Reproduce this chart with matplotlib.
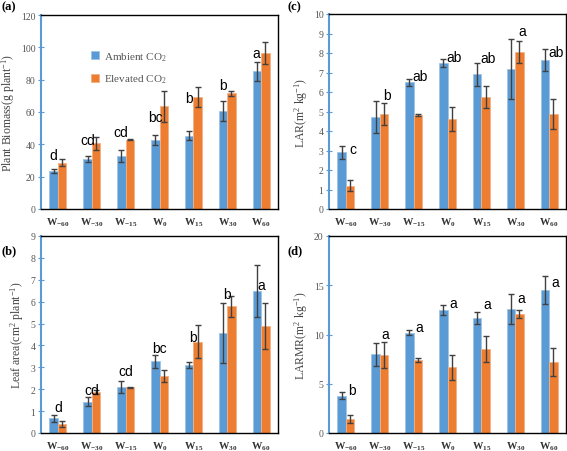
import numpy as np
import matplotlib
matplotlib.use("Agg")
import matplotlib.pyplot as plt

plt.rcParams['font.family'] = ['Liberation Serif', 'DejaVu Serif']
plt.rcParams['mathtext.fontset'] = 'custom'
plt.rcParams['mathtext.rm'] = 'Liberation Serif'
plt.rcParams['mathtext.it'] = 'Liberation Serif:italic'
plt.rcParams['mathtext.bf'] = 'Liberation Serif:bold'
plt.rcParams['mathtext.default'] = 'regular'

# categories
groups = [r'W$_{\mathbf{-60}}$', r'W$_{\mathbf{-30}}$', r'W$_{\mathbf{-15}}$', r'W$_{\mathbf{0}}$',
          r'W$_{\mathbf{15}}$', r'W$_{\mathbf{30}}$', r'W$_{\mathbf{60}}$']

# (a) plant biomass
bio_amb = [23.3, 30.9, 32.6, 42.7, 45.4, 60.6, 85.2]
bio_amb_err = [1.3, 2.0, 3.8, 3.0, 2.6, 6.0, 6.0]
bio_elev = [28.5, 40.8, 42.9, 63.5, 69.3, 71.5, 96.3]
bio_elev_err = [2.2, 4.0, 0.3, 9.6, 6.0, 1.4, 6.9]
bio_let = ['d', 'cd', 'cd', 'bc', 'b', 'b', 'a']
bio_let_y = [33.4, 42.9, 47.8, 56.7, 68.5, 76.7, 96.5]

# (b) leaf area
la_amb = [0.67, 1.43, 2.11, 3.27, 3.10, 4.57, 6.49]
la_amb_err = [0.15, 0.20, 0.27, 0.28, 0.15, 1.35, 1.18]
la_elev = [0.41, 1.88, 2.08, 2.61, 4.18, 5.79, 4.88]
la_elev_err = [0.13, 0.10, 0.03, 0.27, 0.77, 0.48, 1.05]
la_let = ['d', 'cd', 'cd', 'bc', 'b', 'b', 'a']
la_let_y = [1.2, 1.98, 2.84, 3.88, 4.4, 6.37, 6.75]

# (c) LAR
lar_amb = [2.90, 4.73, 6.50, 7.48, 6.90, 7.20, 7.64]
lar_amb_err = [0.34, 0.83, 0.17, 0.19, 0.60, 1.54, 0.58]
lar_elev = [1.20, 4.87, 4.82, 4.62, 5.74, 8.03, 4.87]
lar_elev_err = [0.27, 0.58, 0.07, 0.63, 0.57, 0.56, 0.78]
lar_let = ['c', 'b', 'ab', 'ab', 'ab', 'a', 'ab']
lar_let_y = [3.08, 5.86, 6.8, 7.81, 7.73, 9.15, 8.03]

# (d) LARMR
lmr_amb = [3.78, 8.00, 10.20, 12.47, 11.70, 12.60, 14.50]
lmr_amb_err = [0.34, 1.18, 0.25, 0.50, 0.60, 1.52, 1.40]
lmr_elev = [1.42, 7.90, 7.40, 6.65, 8.48, 12.06, 7.23]
lmr_elev_err = [0.40, 1.30, 0.22, 1.27, 1.32, 0.40, 1.44]
lmr_let = ['b', 'a', 'a', 'a', 'a', 'a', 'a']
lmr_let_y = [4.4, 10.1, 10.8, 13.2, 13.1, 13.75, 15.3]

blue = '#5B9BD5'
orange = '#ED7D31'
w = 0.25

fig = plt.figure(figsize=(5.67, 4.52), dpi=100)

def panel(rect, amb, amb_err, elev, elev_err, ymax, step, ylabel, letters, let_y, let_dx, tag, tag_xy, legend=False):
    ax = fig.add_axes(rect)
    x = np.arange(len(groups))
    ax.bar(x - w / 2, amb, w, color=blue, edgecolor='#9DC3E6', linewidth=0.6, label=r'Ambient CO$_2$')
    ax.bar(x + w / 2, elev, w, color=orange, edgecolor='#F4B183', linewidth=0.6, label=r'Elevated CO$_2$')
    ek = dict(fmt='none', ecolor='#404040', elinewidth=1.0, capsize=2.5, capthick=1.0)
    ax.errorbar(x - w / 2, amb, yerr=amb_err, **ek)
    ax.errorbar(x + w / 2, elev, yerr=elev_err, **ek)
    for i, (t, yy) in enumerate(zip(letters, let_y)):
        ax.text(i + let_dx, yy, t, ha='center', va='center', fontsize=10,
                family='Liberation Sans')
    ax.set_xlim(-0.5, len(groups) - 0.5)
    ax.set_ylim(0, ymax)
    ax.set_yticks(np.arange(0, ymax + step / 2, step))
    ax.set_xticks(x)
    ax.set_xticklabels(groups, fontsize=7.5, color='#333333', fontweight='bold')
    ax.tick_params(axis='x', length=0, pad=5)
    ax.tick_params(axis='y', direction='inout', length=4, color=blue, labelsize=7, labelcolor='#555555', pad=2)
    ax.spines['left'].set_color(blue)
    ax.spines['left'].set_linewidth(1.5)
    for s in ['top', 'right', 'bottom']:
        ax.spines[s].set_color('black')
        ax.spines[s].set_linewidth(1.0)
    ax.set_ylabel(ylabel, fontsize=8.5, color='#444444', labelpad=3)
    fig.text(tag_xy[0], tag_xy[1], tag, fontsize=9, fontweight='bold', ha='left', va='center')
    if legend:
        ax.legend(loc='upper left', bbox_to_anchor=(0.17, 0.87), frameon=False, fontsize=8,
                  handlelength=0.7, handleheight=0.7, handletextpad=0.4, labelspacing=0.9,
                  labelcolor='#555555')
    return ax

W, H = 567, 452
def rect(l, t, r, b):
    return [l / W, 1 - b / H, (r - l) / W, (b - t) / H]

panel(rect(41, 16, 278, 210), bio_amb, bio_amb_err, bio_elev, bio_elev_err, 120, 20,
      r'Plant Biomass(g plant$^{-1}$)', bio_let, bio_let_y, -0.13, '(a)', (2 / W, 1 - 7 / H), legend=True)
panel(rect(41, 237, 278, 434), la_amb, la_amb_err, la_elev, la_elev_err, 9, 1,
      r'Leaf area(cm$^2$ plant$^{-1}$)', la_let, la_let_y, 0.0, '(b)', (2 / W, 1 - 251 / H))
panel(rect(329, 15, 566, 210), lar_amb, lar_amb_err, lar_elev, lar_elev_err, 10, 1,
      r'LAR(m$^2$ kg$^{-1}$)', lar_let, lar_let_y, 0.2, '(c)', (287 / W, 1 - 7 / H))
panel(rect(329, 237, 566, 434), lmr_amb, lmr_amb_err, lmr_elev, lmr_elev_err, 20, 5,
      r'LARMR(m$^2$ kg$^{-1}$)', lmr_let, lmr_let_y, 0.17, '(d)', (288 / W, 1 - 251 / H))

fig.savefig('out.png', dpi=100)
